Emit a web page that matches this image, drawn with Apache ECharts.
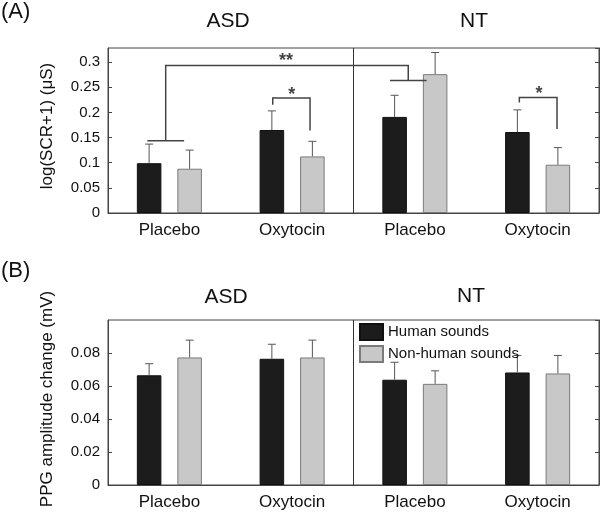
<!DOCTYPE html>
<html>
<head>
<meta charset="utf-8">
<script src="https://cdn.jsdelivr.net/npm/echarts@6/dist/echarts.min.js"></script>
<style>html,body{margin:0;padding:0;background:#fff;}#c{width:600px;height:519px;}</style>
</head>
<body>
<div id="c"></div>
<script>
// ---- data ----
const categories = ['Placebo', 'Oxytocin', 'Placebo', 'Oxytocin'];
const seriesNames = ['Human sounds', 'Non-human sounds'];
// Panel A: log(SCR+1) (μS)
const scrHuman = [0.099, 0.165, 0.191, 0.161];
const scrHumanErr = [0.038, 0.038, 0.043, 0.044];
const scrNonHuman = [0.088, 0.1125, 0.276, 0.096];
const scrNonHumanErr = [0.037, 0.030, 0.043, 0.034];
// Panel B: PPG amplitude change (mV)
const ppgHuman = [0.0665, 0.0765, 0.0638, 0.0682];
const ppgHumanErr = [0.0070, 0.0088, 0.0106, 0.0103];
const ppgNonHuman = [0.0773, 0.0773, 0.0613, 0.0676];
const ppgNonHumanErr = [0.0105, 0.0105, 0.0079, 0.0109];
// significance brackets in panel A (x in category units, y in data units)
const bracketDouble = [[-0.18, 0.1437], [0.12, 0.1437]];
const bracketDoubleLink = [[-0.03, 0.1437], [-0.03, 0.2934], [1.946, 0.2934], [1.946, 0.2636]];
const bracketDoubleRight = [[1.797, 0.2636], [2.096, 0.2636]];
const bracketAsdOxy = [[0.842, 0.215], [0.842, 0.2284], [1.146, 0.2284], [1.146, 0.164]];
const bracketNtOxy = [[2.851, 0.2197], [2.851, 0.2296], [3.158, 0.2296], [3.158, 0.1669]];
const stars = [[0.95, 0.303, '**'], [0.997, 0.234, '*'], [3.011, 0.236, '*']];
// axis ticks
const scrTicks = {min: 0, max: 0.328, interval: 0.05};
const ppgTicks = {min: 0, max: 0.1, interval: 0.02};

// ---- style ----
const FONT = 'Liberation Sans, Arial, Helvetica, sans-serif';
const TXT = '#111';
const BLACK = '#1c1c1c';
const GREY = '#c8c8c8';
const BAR_W_FRAC = 0.2;      // bar width as fraction of band
const BAR_GAP = 0.65;        // gap as fraction of bar width
const OFFSET = BAR_W_FRAC * (1 + BAR_GAP) / 2;

const chart = echarts.init(document.getElementById('c'), null, {renderer: 'canvas'});

function fmt(interval) {
  return function (v) {
    const k = v / interval;
    if (Math.abs(k - Math.round(k)) > 1e-6) return '';
    return String(+v.toFixed(3));
  };
}

function yAxes(gridIndex, t) {
  return [
    {
      type: 'value', gridIndex, min: t.min, max: t.max, interval: t.interval,
      axisLine: {show: true, onZero: false, lineStyle: {color: '#444', width: 1}},
      axisTick: {show: true, inside: true, length: 4, lineStyle: {color: '#444'}},
      axisLabel: {color: TXT, fontSize: 15, fontFamily: FONT, margin: 8, showMaxLabel: false, formatter: fmt(t.interval)},
      splitLine: {show: false}
    },
    {
      type: 'value', gridIndex, position: 'right', min: t.min, max: t.max, interval: t.interval,
      axisLine: {show: true, onZero: false, lineStyle: {color: '#444', width: 1}},
      axisTick: {show: true, inside: true, length: 4, lineStyle: {color: '#444'}},
      axisLabel: {show: false}, splitLine: {show: false}
    }
  ];
}

function xAxes(gridIndex) {
  return [
    {
      type: 'category', gridIndex, data: categories,
      axisLine: {show: true, onZero: false, lineStyle: {color: '#444', width: 1}},
      axisTick: {show: false},
      axisLabel: {color: TXT, fontSize: 17, fontFamily: FONT, margin: 9},
      splitLine: {show: false}
    },
    {
      // helper axis in category units; its split line at 1.5 divides ASD / NT
      type: 'value', gridIndex, min: -0.5, max: 3.5, interval: 2,
      axisLine: {show: false, onZero: false}, axisTick: {show: false}, axisLabel: {show: false},
      splitLine: {show: true, lineStyle: {color: '#333', width: 1}}
    }
  ];
}

function barSeries(name, data, xi, yi, color) {
  return {
    type: 'bar', name, data, xAxisIndex: xi, yAxisIndex: yi,
    barWidth: (BAR_W_FRAC * 100) + '%', barGap: (BAR_GAP * 100) + '%',
    itemStyle: {color, borderColor: color === GREY ? '#7a7a7a' : '#111', borderWidth: 1},
    emphasis: {disabled: true}, silent: true
  };
}

function errSeries(vals, errs, side, xi, yi) {
  const data = vals.map(function (v, i) { return [i + side * OFFSET, v, v + errs[i]]; });
  return {
    type: 'custom', xAxisIndex: xi, yAxisIndex: yi, data, silent: true, z: 3,
    renderItem: function (params, api) {
      const p0 = api.coord([api.value(0), api.value(1)]);
      const p1 = api.coord([api.value(0), api.value(2)]);
      const st = {stroke: '#555', lineWidth: 1};
      return {type: 'group', children: [
        {type: 'line', shape: {x1: p0[0], y1: p0[1], x2: p1[0], y2: p1[1]}, style: st},
        {type: 'line', shape: {x1: p1[0] - 4, y1: p1[1], x2: p1[0] + 4, y2: p1[1]}, style: st}
      ]};
    }
  };
}

const brackets = [bracketDouble, bracketDoubleLink, bracketDoubleRight, bracketAsdOxy, bracketNtOxy];

const option = {
  animation: false,
  backgroundColor: '#fff',
  grid: [
    {left: 108, right: 1, top: 48, height: 165, show: true, borderColor: '#444', borderWidth: 1},
    {left: 108, right: 1, top: 320, height: 165, show: true, borderColor: '#444', borderWidth: 1}
  ],
  xAxis: xAxes(0).concat(xAxes(1)),
  yAxis: yAxes(0, scrTicks).concat(yAxes(1, ppgTicks)),
  legend: {
    data: seriesNames, orient: 'vertical', left: 357, top: 321,
    itemWidth: 23, itemHeight: 16, itemGap: 4, itemTextGap: 4, selectedMode: false,
    icon: 'rect', padding: 2,
    textStyle: {color: TXT, fontSize: 15, fontFamily: FONT}
  },
  series: [
    barSeries(seriesNames[0], scrHuman, 0, 0, BLACK),
    barSeries(seriesNames[1], scrNonHuman, 0, 0, GREY),
    errSeries(scrHuman, scrHumanErr, -1, 1, 0),
    errSeries(scrNonHuman, scrNonHumanErr, 1, 1, 0),
    {
      type: 'lines', coordinateSystem: 'cartesian2d', xAxisIndex: 1, yAxisIndex: 0, polyline: true, silent: true,
      data: brackets.map(function (b) { return {coords: b}; }),
      lineStyle: {color: '#444', width: 1.5, opacity: 1}, z: 4
    },
    {
      type: 'scatter', xAxisIndex: 1, yAxisIndex: 0, symbolSize: 1, silent: true,
      itemStyle: {color: 'rgba(0,0,0,0)'},
      data: stars.map(function (s) { return {value: [s[0], s[1]], label: {formatter: s[2]}}; }),
      label: {show: true, position: 'inside', color: TXT, fontSize: 18, fontWeight: 'bold', fontFamily: FONT},
      z: 5
    },
    barSeries(seriesNames[0], ppgHuman, 2, 2, BLACK),
    barSeries(seriesNames[1], ppgNonHuman, 2, 2, GREY),
    errSeries(ppgHuman, ppgHumanErr, -1, 3, 2),
    errSeries(ppgNonHuman, ppgNonHumanErr, 1, 3, 2)
  ],
  graphic: [
    {type: 'text', x: 1, y: 12, style: {text: '(A)', fontSize: 22, fontFamily: FONT, fill: TXT, align: 'left', verticalAlign: 'middle'}},
    {type: 'text', x: 1, y: 271, style: {text: '(B)', fontSize: 22, fontFamily: FONT, fill: TXT, align: 'left', verticalAlign: 'middle'}},
    {type: 'text', x: 228, y: 21, style: {text: 'ASD', fontSize: 21, fontFamily: FONT, fill: TXT, align: 'center', verticalAlign: 'middle'}},
    {type: 'text', x: 474, y: 21, style: {text: 'NT', fontSize: 21, fontFamily: FONT, fill: TXT, align: 'center', verticalAlign: 'middle'}},
    {type: 'text', x: 226, y: 297, style: {text: 'ASD', fontSize: 21, fontFamily: FONT, fill: TXT, align: 'center', verticalAlign: 'middle'}},
    {type: 'text', x: 471, y: 296, style: {text: 'NT', fontSize: 21, fontFamily: FONT, fill: TXT, align: 'center', verticalAlign: 'middle'}},
    {type: 'text', x: 47, y: 126, rotation: Math.PI / 2, style: {text: 'log(SCR+1) (μS)', fontSize: 17, fontFamily: FONT, fill: TXT, align: 'center', verticalAlign: 'middle'}},
    {type: 'text', x: 47, y: 399, rotation: Math.PI / 2, style: {text: 'PPG amplitude change (mV)', fontSize: 17, fontFamily: FONT, fill: TXT, align: 'center', verticalAlign: 'middle'}}
  ]
};
chart.setOption(option);
</script>
</body>
</html>
